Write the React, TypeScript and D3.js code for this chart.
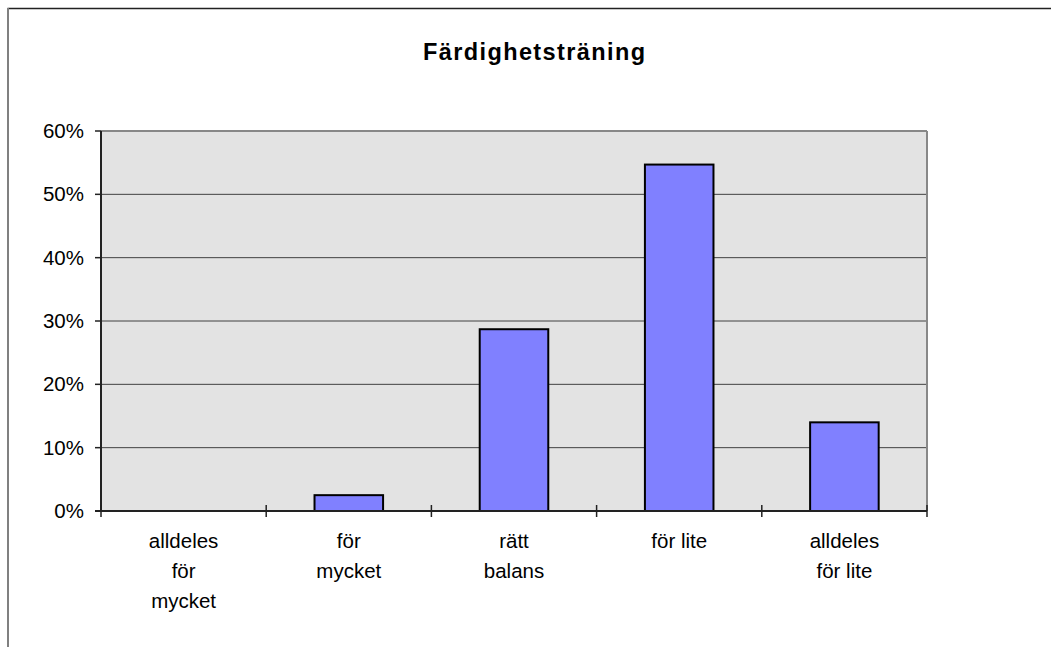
import React from "react";
import * as d3 from "d3";

const title = "Färdighetsträning";
const categories = ["alldeles för mycket", "för mycket", "rätt balans", "för lite", "alldeles för lite"];
const categoryLines = [["alldeles", "för", "mycket"], ["för", "mycket"], ["rätt", "balans"], ["för lite"], ["alldeles", "för lite"]];
const values = [0, 0.025, 0.287, 0.547, 0.14];
const yTicks = [0, 0.1, 0.2, 0.3, 0.4, 0.5, 0.6];

const W = 1051, H = 647;
const plot = { left: 101, right: 927, top: 131, bottom: 511 };
const font = "'Liberation Sans', Arial, sans-serif";

export default function App() {
  const x = d3.scaleBand<string>().domain(categories).range([plot.left, plot.right]).padding(0);
  const y = d3.scaleLinear().domain([0, 0.6]).range([plot.bottom, plot.top]);
  const bw = x.bandwidth() * 0.415;
  const fmt = d3.format(".0%");
  const edges = [...categories.map((c) => x(c)!), plot.right];
  return (
    <svg width={W} height={H} style={{ position: "absolute", left: 0, top: 0, display: "block" }}>
      <rect x={0} y={0} width={W} height={H} fill="#fff" />
      <line x1={7.5} x2={W} y1={8.5} y2={8.5} stroke="#222" strokeWidth={1.5} />
      <line x1={8} x2={8} y1={8} y2={H} stroke="#808080" strokeWidth={2} />
      <text x={534} y={60} textAnchor="middle" fontFamily={font} fontWeight="bold" fontSize={23.5} textLength={222} lengthAdjust="spacing">{title}</text>
      <rect x={plot.left} y={plot.top} width={plot.right - plot.left} height={plot.bottom - plot.top} fill="#e3e3e3" />
      {yTicks.slice(1, -1).map((t) => (
        <line key={t} x1={plot.left} x2={plot.right} y1={y(t)} y2={y(t)} stroke="#404040" strokeWidth={1} />
      ))}
      <line x1={plot.left} x2={plot.right} y1={plot.top} y2={plot.top} stroke="#888" strokeWidth={2} />
      <line x1={plot.right} x2={plot.right} y1={plot.top} y2={plot.bottom} stroke="#888" strokeWidth={2} />
      {categories.map((c, i) => {
        const cx = x(c)! + x.bandwidth() / 2;
        const v = values[i];
        if (v <= 0) return null;
        return (
          <rect key={c} x={cx - bw / 2} y={y(v)} width={bw} height={y(0) - y(v)} fill="#8080ff" stroke="#000" strokeWidth={2} />
        );
      })}
      <line x1={plot.left} x2={plot.left} y1={plot.top} y2={plot.bottom} stroke="#222" strokeWidth={2} />
      <line x1={plot.left - 6} x2={plot.right} y1={plot.bottom} y2={plot.bottom} stroke="#222" strokeWidth={2} />
      {yTicks.map((t) => (
        <g key={t}>
          <line x1={plot.left - 6} x2={plot.left} y1={y(t)} y2={y(t)} stroke="#222" strokeWidth={1.5} />
          <text x={84} y={y(t) + 7} textAnchor="end" fontFamily={font} fontSize={20.5} fill="#000">{fmt(t)}</text>
        </g>
      ))}
      {edges.map((e, i) => (
        <line key={i} x1={e} x2={e} y1={plot.bottom - 6} y2={plot.bottom + 6} stroke="#222" strokeWidth={1.5} />
      ))}
      {categories.map((c, i) => (
        <text key={c} textAnchor="middle" fontFamily={font} fontSize={20.5} fill="#000">
          {categoryLines[i].map((l, j) => (
            <tspan key={j} x={x(c)! + x.bandwidth() / 2} y={548 + j * 30}>{l}</tspan>
          ))}
        </text>
      ))}
    </svg>
  );
}
